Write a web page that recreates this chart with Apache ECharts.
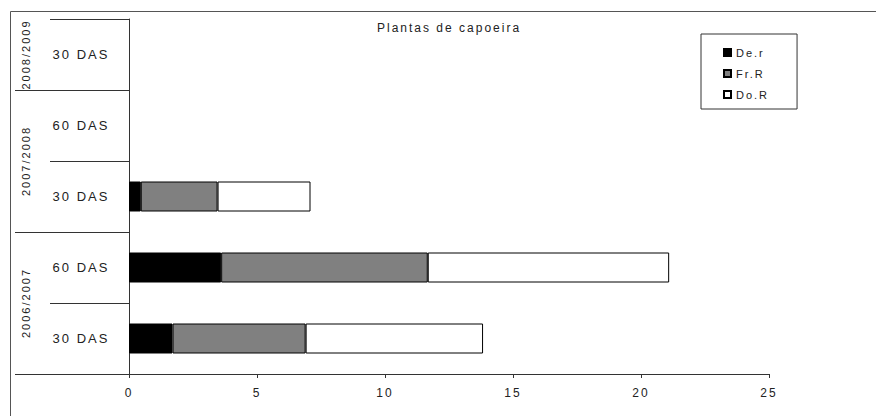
<!DOCTYPE html>
<html>
<head>
<meta charset="utf-8">
<script src="https://cdn.jsdelivr.net/npm/echarts@6/dist/echarts.min.js"></script>
<style>
  html, body { margin: 0; padding: 0; background: #fff; }
  #myChart { width: 876px; height: 416px; }
  #myChart text { letter-spacing: 2px; }
</style>
</head>
<body>
<div id="myChart"></div>
<script>
// categorias (de baixo para cima)
const categories = ['30 DAS', '60 DAS', '30 DAS', '60 DAS', '30 DAS'];
const seasons = ['2006/2007', '2007/2008', '2008/2009'];
const seasonSize = [2, 2, 1];

// valores empilhados (null = sem dados)
const deR = [1.7, 3.6, 0.46, null, null];
const frR = [5.2, 8.07, 3.0, null, null];
const doR = [6.93, 9.43, 3.63, null, null];

// eixo x
const xMin = 0;
const xMax = 25;
const xStep = 5;

const font = 'Liberation Sans';
const lineColor = '#333';

let chart = echarts.init(document.getElementById('myChart'), null, {renderer: 'svg'});

let barStyle = {borderColor: '#000', borderWidth: 1};

let option = {
  animation: false,
  title: {
    text: 'Plantas de capoeira',
    left: 377,
    top: 22,
    padding: 0,
    textStyle: {fontFamily: font, fontSize: 12, fontWeight: 'normal', color: '#222'}
  },
  legend: {
    orient: 'vertical',
    left: 701,
    top: 34,
    padding: [13, 36, 9, 22],
    itemWidth: 7,
    itemHeight: 7,
    itemGap: 10,
    icon: 'rect',
    borderColor: lineColor,
    borderWidth: 1,
    textStyle: {fontFamily: font, fontSize: 11, color: '#222'},
    data: ['De.r', 'Fr.R', 'Do.R']
  },
  grid: {left: 129, right: 107, top: 19, bottom: 42, containLabel: false},
  xAxis: {
    type: 'value',
    min: xMin,
    max: xMax,
    interval: xStep,
    splitLine: {show: false},
    axisLine: {show: true, lineStyle: {color: lineColor}},
    axisTick: {show: true, length: 4, lineStyle: {color: lineColor}},
    axisLabel: {fontFamily: font, fontSize: 12, color: '#222', margin: 13}
  },
  yAxis: {
    type: 'category',
    data: categories,
    axisLine: {show: true, lineStyle: {color: lineColor}},
    axisTick: {show: true, length: 79, alignWithLabel: false, lineStyle: {color: lineColor}},
    axisLabel: {fontFamily: font, fontSize: 13, color: '#222', align: 'center', margin: 48}
  },
  series: [
    {name: 'De.r', type: 'bar', stack: 'total', barWidth: 30, data: deR,
      itemStyle: Object.assign({color: '#000000'}, barStyle)},
    {name: 'Fr.R', type: 'bar', stack: 'total', barWidth: 30, data: frR,
      itemStyle: Object.assign({color: '#808080'}, barStyle)},
    {name: 'Do.R', type: 'bar', stack: 'total', barWidth: 30, data: doR,
      itemStyle: Object.assign({color: '#ffffff'}, barStyle)}
  ]
};
chart.setOption(option);

// moldura, divisores de safra e rótulos das safras
const mid = i => chart.convertToPixel({yAxisIndex: 0}, i);
const band = Math.abs(mid(0) - mid(1));
const x0 = chart.convertToPixel({xAxisIndex: 0}, xMin);
const crisp = v => Math.round(v) + 0.5;

let graphics = [
  {type: 'rect', shape: {x: 10.5, y: 11.5, width: 1000, height: 1000},
    style: {fill: null, stroke: '#555', lineWidth: 1}, silent: true}
];
let start = 0;
seasons.forEach((s, k) => {
  const end = start + seasonSize[k] - 1;
  const yBottom = crisp(mid(start) + band / 2);
  graphics.push({type: 'line', shape: {x1: 15, y1: yBottom, x2: x0, y2: yBottom},
    style: {stroke: lineColor, lineWidth: 1}, silent: true});
  graphics.push({type: 'text', x: 26, y: (mid(start) + mid(end)) / 2, rotation: Math.PI / 2,
    style: {text: s, fontFamily: font, fontSize: 11, fill: '#222', align: 'center', verticalAlign: 'middle'},
    silent: true});
  start = end + 1;
});
chart.setOption({graphic: graphics});
</script>
</body>
</html>
